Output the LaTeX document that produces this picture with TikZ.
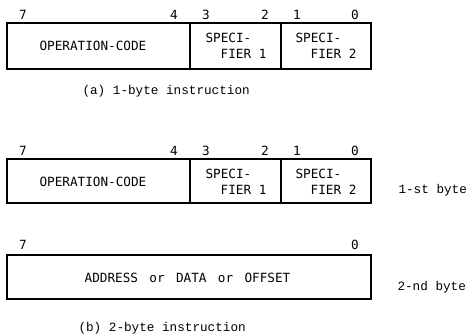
\documentclass[tikz,border=0pt]{standalone}
\usepackage{fontspec}
\newfontfamily\fieldfont{DejaVu Sans Mono}
\newfontfamily\capfont{Liberation Mono}

\tikzset{every picture/.style={line width=0.8pt}}
\tikzset{
  fieldtext/.style={font=\fieldfont\fontsize{9.5}{12}\selectfont, align=left, inner sep=0pt},
  bitno/.style={font=\fieldfont\fontsize{9.5}{12}\selectfont, inner sep=0pt},
  captext/.style={font=\capfont\fontsize{9.5}{12}\selectfont, inner sep=0pt, anchor=west}
}
\newcommand{\wordgap}{\hspace{0.9em}}

\begin{document}
\begin{tikzpicture}[x=0.75pt,y=0.75pt,yscale=-1,xscale=1]
\useasboundingbox (0,0) rectangle (468,334);

%Shape: Rectangle (1-byte instruction)
\draw   (7,23) rectangle (371,69) ;
\draw   (190,23) -- (190,69) ;
\draw   (281,23) -- (281,69) ;
%Shape: Rectangle (2-byte instruction, 1st byte)
\draw   (7,159) rectangle (371,203) ;
\draw   (190,159) -- (190,203) ;
\draw   (281,159) -- (281,203) ;
%Shape: Rectangle (2-byte instruction, 2nd byte)
\draw   (7,255) rectangle (371,299) ;

% Text Node
\draw (23,15) node [bitno] (bitSevenA) {7};
% Text Node
\draw (174,15) node [bitno] (bitFourA) {4};
% Text Node
\draw (206,15) node [bitno] (bitThreeA) {3};
% Text Node
\draw (265,15) node [bitno] (bitTwoA) {2};
% Text Node
\draw (297,15) node [bitno] (bitOneA) {1};
% Text Node
\draw (355,15) node [bitno] (bitZeroA) {0};
% Text Node
\draw (93,46) node [fieldtext] (opcodeA) {OPERATION-CODE};
% Text Node
\draw (236,46) node [fieldtext] (specOneA) {SPECI-\\\hspace*{1.2em}FIER 1};
% Text Node
\draw (326,46) node [fieldtext] (specTwoA) {SPECI-\\\hspace*{1.2em}FIER 2};
% Text Node
\draw (82,91) node [captext] (captionA) {(a) 1-byte instruction};

% Text Node
\draw (23,151) node [bitno] (bitSevenB) {7};
% Text Node
\draw (174,151) node [bitno] (bitFourB) {4};
% Text Node
\draw (206,151) node [bitno] (bitThreeB) {3};
% Text Node
\draw (265,151) node [bitno] (bitTwoB) {2};
% Text Node
\draw (297,151) node [bitno] (bitOneB) {1};
% Text Node
\draw (355,151) node [bitno] (bitZeroB) {0};
% Text Node
\draw (93,182) node [fieldtext] (opcodeB) {OPERATION-CODE};
% Text Node
\draw (236,182) node [fieldtext] (specOneB) {SPECI-\\\hspace*{1.2em}FIER 1};
% Text Node
\draw (326,182) node [fieldtext] (specTwoB) {SPECI-\\\hspace*{1.2em}FIER 2};
% Text Node
\draw (398,190) node [captext] (firstByte) {1-st byte};

% Text Node
\draw (23,245) node [bitno] (bitSevenC) {7};
% Text Node
\draw (355,245) node [bitno] (bitZeroC) {0};
% Text Node
\draw (187.5,278) node [fieldtext] (operandC) {ADDRESS\wordgap or\wordgap DATA\wordgap or\wordgap OFFSET};
% Text Node
\draw (397,287) node [captext] (secondByte) {2-nd byte};
% Text Node
\draw (78,328) node [captext] (captionB) {(b) 2-byte instruction};

\end{tikzpicture}
\end{document}
